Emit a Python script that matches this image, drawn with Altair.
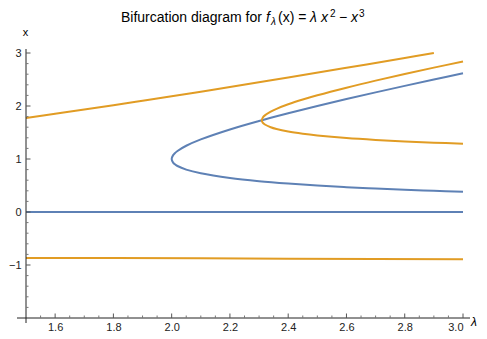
import altair as alt
import pandas as pd

# ---- data ----
# trivial fixed point
lam_zero = [1.5, 3.0]
x_zero = [0.0, 0.0]

# non-trivial fixed points (fold at lambda = 2), traced lower branch -> upper branch
lam_fix = [3.0, 2.9, 2.8, 2.7, 2.6, 2.5, 2.4, 2.3, 2.2, 2.1, 2.05, 2.02, 2.01, 2.005, 2.0,
           2.005, 2.01, 2.02, 2.05, 2.1, 2.2, 2.3, 2.4, 2.5, 2.6, 2.7, 2.8, 2.9, 3.0]
x_fix = [0.382, 0.400, 0.420, 0.443, 0.469, 0.500, 0.537, 0.582, 0.642, 0.730, 0.800, 0.868, 0.905, 0.932, 1.000,
         1.073, 1.105, 1.152, 1.250, 1.370, 1.558, 1.718, 1.863, 2.000, 2.131, 2.257, 2.380, 2.500, 2.618]

# period-2 orbit, upper point (clipped at x = 3)
lam_p2_top = [1.5, 1.6, 1.7, 1.8, 1.9, 2.0, 2.1, 2.2, 2.4, 2.6, 2.8, 2.9]
x_p2_top = [1.775, 1.853, 1.932, 2.014, 2.098, 2.183, 2.270, 2.358, 2.537, 2.720, 2.905, 2.999]

# period-2 orbit, lower point
lam_p2_bot = [1.5, 1.8, 2.1, 2.4, 2.7, 3.0]
x_p2_bot = [-0.866, -0.869, -0.874, -0.880, -0.886, -0.892]

# second period-2 orbit born at lambda ~ 2.31 (traced lower -> upper)
lam_p2b = [3.0, 2.9, 2.8, 2.7, 2.6, 2.5, 2.45, 2.4, 2.36, 2.34, 2.32, 2.3125, 2.3094,
           2.3125, 2.32, 2.34, 2.36, 2.4, 2.45, 2.5, 2.6, 2.7, 2.8, 2.9, 3.0]
x_p2b = [1.288, 1.308, 1.331, 1.360, 1.396, 1.445, 1.477, 1.518, 1.565, 1.599, 1.651, 1.686, 1.732,
         1.780, 1.823, 1.894, 1.947, 2.032, 2.122, 2.202, 2.346, 2.479, 2.604, 2.724, 2.840]

x_major = [1.6, 1.8, 2.0, 2.2, 2.4, 2.6, 2.8, 3.0]
x_minor = [1.55, 1.65, 1.7, 1.75, 1.85, 1.9, 1.95, 2.05, 2.1, 2.15, 2.25, 2.3, 2.35,
           2.45, 2.5, 2.55, 2.65, 2.7, 2.75, 2.85, 2.9, 2.95]
y_major = [-1, 0, 1, 2, 3]
y_minor = [-1.8, -1.6, -1.4, -1.2, -0.8, -0.6, -0.4, -0.2, 0.2, 0.4, 0.6, 0.8,
           1.2, 1.4, 1.6, 1.8, 2.2, 2.4, 2.6, 2.8]

BLUE = "#5E81B5"
ORANGE = "#E19C24"
FONT = "Liberation Sans"
W, H = 437, 265


def curve(lams, xs):
    return pd.DataFrame({"lam": lams, "x": xs, "i": list(range(len(lams)))})


xs = alt.Scale(domain=[1.5, 3.0], nice=False, zero=False)
ys = alt.Scale(domain=[-2, 3], nice=False, zero=False)

X = alt.X("lam:Q", scale=xs,
          axis=alt.Axis(values=x_major, format=".1f", title=None, labelPadding=3))
Y = alt.Y("x:Q", scale=ys,
          axis=alt.Axis(values=y_major, format="d", title=None, labelPadding=5))


def line(df, color, interp="catmull-rom"):
    return alt.Chart(df).mark_line(color=color, strokeWidth=2, interpolate=interp).encode(
        x=X, y=Y, order="i:Q")


layers = [
    line(curve(lam_zero, x_zero), BLUE, "linear"),
    line(curve(lam_fix, x_fix), BLUE),
    line(curve(lam_p2_top, x_p2_top), ORANGE),
    line(curve(lam_p2_bot, x_p2_bot), ORANGE, "linear"),
    line(curve(lam_p2b, x_p2b), ORANGE),
]

# axis lines
axis_df = pd.DataFrame({"k": [0]})
layers.append(alt.Chart(axis_df).mark_rule(color="#222", strokeWidth=1).encode(
    x=alt.value(-9), x2=alt.value(W + 7), y=alt.value(H)))
layers.append(alt.Chart(axis_df).mark_rule(color="#222", strokeWidth=1).encode(
    x=alt.value(0), y=alt.value(-4), y2=alt.value(H + 5)))

# ticks (inside)
layers.append(alt.Chart(pd.DataFrame({"lam": x_major})).mark_rule(color="#555").encode(
    x=X, y=alt.value(H), y2=alt.value(H - 4.5)))
layers.append(alt.Chart(pd.DataFrame({"lam": x_minor})).mark_rule(color="#777").encode(
    x=X, y=alt.value(H), y2=alt.value(H - 2.5)))
layers.append(alt.Chart(pd.DataFrame({"x": y_major})).mark_rule(color="#555").encode(
    y=Y, x=alt.value(0), x2=alt.value(4.5)))
layers.append(alt.Chart(pd.DataFrame({"x": y_minor})).mark_rule(color="#777").encode(
    y=Y, x=alt.value(0), x2=alt.value(2.5)))


def txt(s, x, y, size=14, style="normal", align="left", baseline="alphabetic"):
    return alt.Chart(pd.DataFrame({"t": [s]})).mark_text(
        font=FONT, fontSize=size, fontStyle=style, align=align, baseline=baseline, color="#000"
    ).encode(text="t:N", x=alt.value(x), y=alt.value(y))


# axis titles
layers.append(txt("x", -0.5, -17, size=11, align="center"))
layers.append(txt("λ", 448, H + 4, size=12, style="italic", align="center", baseline="middle"))

# title pieces: Bifurcation diagram for f_λ(x) = λ x^2 − x^3
TB = -31
layers += [
    txt("Bifurcation diagram for", 95, TB),
    txt("f", 240, TB, style="italic"),
    txt("λ", 245, TB + 3, size=10, style="italic"),
    txt("(x) =", 252, TB),
    txt("λ", 284, TB, style="italic"),
    txt("x", 295, TB, style="italic"),
    txt("2", 304, TB - 5, size=10),
    txt("−", 313, TB),
    txt("x", 325, TB, style="italic"),
    txt("3", 333, TB - 5, size=10),
]

chart = alt.layer(*layers).properties(
    width=W, height=H,
    padding={"left": 18, "top": 45, "right": 16, "bottom": 13},
    autosize=alt.AutoSizeParams(type="none"),
).configure_axis(
    domain=False, ticks=False, grid=False,
    labelFont=FONT, labelFontSize=11, labelColor="#222",
).configure_view(stroke=None)

chart.save("out.html", embed_options={"renderer": "svg", "actions": False})
